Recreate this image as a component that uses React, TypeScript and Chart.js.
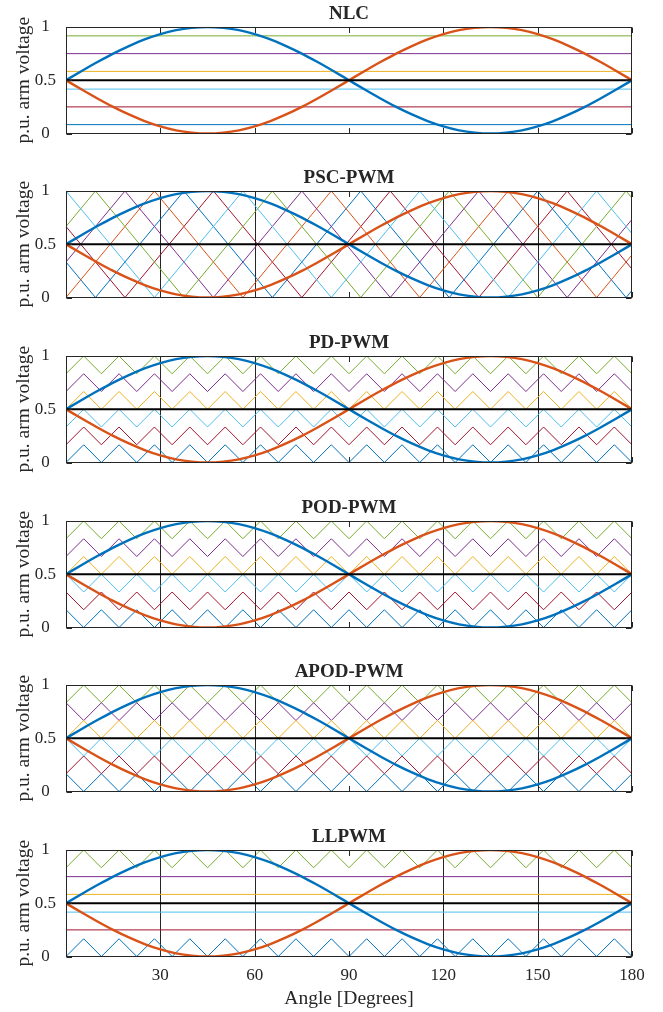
import { useEffect, useRef } from "react";
import { Chart, registerables } from "chart.js";

Chart.register(...registerables);

// MATLAB-style palette
const BLUE = "#0072BD";
const ORANGE = "#D95319";
const YELLOW = "#EDB120";
const PURPLE = "#7E2F8E";
const GREEN = "#77AC30";
const LIGHTBLUE = "#4DBEEE";
const DARKRED = "#A2142F";
const INK = "#262626";

// Axes
const angleTicks = [30, 60, 90, 120, 150, 180];
const frameTicks = [0, 30, 60, 90, 120, 150, 180];
const gridAngles = [30, 60, 120, 150];
const voltageTicks = [0, 0.5, 1];
const voltageTickLabels = ["0", "0.5", "1"];

const panelTitles = ["NLC", "PSC-PWM", "PD-PWM", "POD-PWM", "APOD-PWM", "LLPWM"];

// Arm reference voltages (p.u.) sampled every 5 degrees
const sineAngles = [
  0, 5, 10, 15, 20, 25, 30, 35, 40, 45, 50, 55, 60, 65, 70, 75, 80, 85, 90,
  95, 100, 105, 110, 115, 120, 125, 130, 135, 140, 145, 150, 155, 160, 165, 170, 175, 180,
];
const upperArm = [
  0.5, 0.587, 0.671, 0.75, 0.821, 0.883, 0.933, 0.97, 0.992, 1, 0.992, 0.97, 0.933, 0.883,
  0.821, 0.75, 0.671, 0.587, 0.5, 0.413, 0.329, 0.25, 0.179, 0.117, 0.067, 0.03, 0.008, 0,
  0.008, 0.03, 0.067, 0.117, 0.179, 0.25, 0.329, 0.413, 0.5,
];
const lowerArm = [
  0.5, 0.413, 0.329, 0.25, 0.179, 0.117, 0.067, 0.03, 0.008, 0, 0.008, 0.03, 0.067, 0.117,
  0.179, 0.25, 0.329, 0.413, 0.5, 0.587, 0.671, 0.75, 0.821, 0.883, 0.933, 0.97, 0.992, 1,
  0.992, 0.97, 0.933, 0.883, 0.821, 0.75, 0.671, 0.587, 0.5,
];
const midLevel = 0.5;

// Nearest level control: switching levels
const nlcLevels = [0.0833, 0.25, 0.4167, 0.5833, 0.75, 0.9167];
const bandColors = [BLUE, DARKRED, LIGHTBLUE, YELLOW, PURPLE, GREEN];

// Level-shifted carriers: vertex angles (half carrier period apart)
const lsAngles = [
  0, 5.625, 11.25, 16.875, 22.5, 28.125, 33.75, 39.375, 45, 50.625, 56.25, 61.875, 67.5,
  73.125, 78.75, 84.375, 90, 95.625, 101.25, 106.875, 112.5, 118.125, 123.75, 129.375, 135,
  140.625, 146.25, 151.875, 157.5, 163.125, 168.75, 174.375, 180,
];
const bandCount = 6;
// 1 = carrier starts at the top of its band, 0 = starts at the bottom
const pdStartHigh = [0, 0, 0, 0, 0, 0];
const podStartHigh = [1, 1, 1, 0, 0, 0];
const apodStartHigh = [1, 0, 1, 0, 1, 0];

// Phase-shifted carriers: vertices every 9.375 degrees
const pscAngles = [
  0, 9.375, 18.75, 28.125, 37.5, 46.875, 56.25, 65.625, 75, 84.375, 93.75, 103.125, 112.5,
  121.875, 131.25, 140.625, 150, 159.375, 168.75, 178.125, 187.5,
];
const pscShape = [1, 0.6667, 0.3333, 0, 0.3333, 0.6667];
const pscPeakOffset = [0, 1, 2, 3, 4, 5];
const pscColors = [LIGHTBLUE, GREEN, PURPLE, ORANGE, BLUE, DARKRED];

// LLPWM: outer bands carry triangles, inner levels fixed
const llpwmCarrierBands = [0, 5];
const llpwmLevels = [0.25, 0.4167, 0.5833, 0.75];
const llpwmLevelColors = [DARKRED, LIGHTBLUE, YELLOW, PURPLE];

const FONT_FAMILY = "'Liberation Serif', 'Times New Roman', serif";

type Pt = { x: number; y: number };

function thin(data: Pt[], color: string) {
  return { data, borderColor: color, borderWidth: 1, pointRadius: 0, tension: 0, fill: false };
}

function flatLine(level: number): Pt[] {
  return [
    { x: 0, y: level },
    { x: 180, y: level },
  ];
}

function bandCarrier(band: number, startHigh: number): Pt[] {
  return lsAngles.map((a, i) => ({ x: a, y: (band + ((i + startHigh) % 2)) / bandCount }));
}

function pscCarrier(c: number): Pt[] {
  return pscAngles.map((a, i) => ({
    x: a,
    y: pscShape[(((i - pscPeakOffset[c]) % 6) + 6) % 6],
  }));
}

function carriersFor(panel: number) {
  if (panel === 0) return nlcLevels.map((v, k) => thin(flatLine(v), bandColors[k]));
  if (panel === 1) return pscColors.map((col, c) => thin(pscCarrier(c), col));
  if (panel === 2) return bandColors.map((col, k) => thin(bandCarrier(k, pdStartHigh[k]), col));
  if (panel === 3) return bandColors.map((col, k) => thin(bandCarrier(k, podStartHigh[k]), col));
  if (panel === 4) return bandColors.map((col, k) => thin(bandCarrier(k, apodStartHigh[k]), col));
  return [
    ...llpwmCarrierBands.map((k) => thin(bandCarrier(k, pdStartHigh[k]), bandColors[k])),
    ...llpwmLevels.map((v, j) => thin(flatLine(v), llpwmLevelColors[j])),
  ];
}

function datasetsFor(panel: number) {
  return [
    { data: flatLine(midLevel), borderColor: "#000000", borderWidth: 2.2, pointRadius: 0, tension: 0 },
    {
      data: sineAngles.map((a, i) => ({ x: a, y: upperArm[i] })),
      borderColor: BLUE,
      borderWidth: 2.4,
      pointRadius: 0,
      cubicInterpolationMode: "monotone",
    },
    {
      data: sineAngles.map((a, i) => ({ x: a, y: lowerArm[i] })),
      borderColor: ORANGE,
      borderWidth: 2.4,
      pointRadius: 0,
      cubicInterpolationMode: "monotone",
    },
    ...carriersFor(panel),
  ];
}

const panelFrame = {
  id: "panelFrame",
  beforeDatasetsDraw(chart: any, _args: any, opts: any) {
    if (!opts.showGrid) return;
    const { ctx, chartArea: a, scales } = chart;
    ctx.save();
    ctx.strokeStyle = INK;
    ctx.lineWidth = 1;
    for (const g of gridAngles) {
      const px = Math.round(scales.x.getPixelForValue(g)) + 0.5;
      ctx.beginPath();
      ctx.moveTo(px, a.top);
      ctx.lineTo(px, a.bottom);
      ctx.stroke();
    }
    ctx.restore();
  },
  afterDatasetsDraw(chart: any, _args: any, opts: any) {
    const { ctx, chartArea: a, scales } = chart;
    ctx.save();
    ctx.strokeStyle = INK;
    ctx.lineWidth = 1;
    const L = Math.round(a.left) + 0.5;
    const R = Math.round(a.right) - 0.5;
    const T = Math.round(a.top) + 0.5;
    const B = Math.round(a.bottom) - 0.5;
    ctx.strokeRect(L, T, R - L, B - T);
    const tl = 5.5;
    ctx.beginPath();
    for (const t of frameTicks) {
      const px = Math.round(scales.x.getPixelForValue(t)) + 0.5;
      ctx.moveTo(px, B);
      ctx.lineTo(px, B - tl);
      ctx.moveTo(px, T);
      ctx.lineTo(px, T + tl);
    }
    for (const v of voltageTicks) {
      const py = Math.round(scales.y.getPixelForValue(v)) + 0.5;
      ctx.moveTo(L, py);
      ctx.lineTo(L + tl, py);
      ctx.moveTo(R, py);
      ctx.lineTo(R - tl, py);
    }
    ctx.stroke();

    // panel title
    ctx.fillStyle = INK;
    ctx.font = `bold 19px ${FONT_FAMILY}`;
    ctx.textAlign = "center";
    ctx.textBaseline = "alphabetic";
    ctx.fillText(opts.title, (a.left + a.right) / 2, a.top - 8.5);

    // y-axis title
    ctx.font = `19.5px ${FONT_FAMILY}`;
    ctx.save();
    ctx.translate(23.5, (a.top + a.bottom) / 2);
    ctx.rotate(-Math.PI / 2);
    ctx.textBaseline = "middle";
    ctx.fillText("p.u. arm voltage", 0, 0);
    ctx.restore();

    if (opts.xTitle) {
      ctx.textBaseline = "alphabetic";
      ctx.fillText(opts.xTitle, (a.left + a.right) / 2, a.bottom + 47.5);
    }
    ctx.restore();
  },
};

const canvasTops = [0, 164, 329, 494, 658, 823];
const PANEL_H = 164;
const LAST_H = 189;

export default function App() {
  const refs = useRef<(HTMLCanvasElement | null)[]>([]);

  useEffect(() => {
    const charts: Chart[] = [];
    panelTitles.forEach((title, p) => {
      const canvas = refs.current[p];
      if (!canvas) return;
      const isLast = p === panelTitles.length - 1;
      const chart = new Chart(canvas, {
        type: "line",
        data: { datasets: datasetsFor(p) as any },
        options: {
          animation: false,
          responsive: false,
          devicePixelRatio: 1,
          events: [],
          layout: { padding: { top: 27, right: 31, bottom: isLast ? 0 : 30.5, left: 0 } },
          plugins: {
            legend: { display: false },
            tooltip: { enabled: false },
            panelFrame: { title, showGrid: p > 0, xTitle: isLast ? "Angle [Degrees]" : "" },
          } as any,
          scales: {
            x: {
              type: "linear",
              min: 0,
              max: 180,
              display: isLast,
              afterBuildTicks: (s: any) => {
                s.ticks = angleTicks.map((v) => ({ value: v }));
              },
              afterFit: (s: any) => {
                s.height = isLast ? 55.5 : 0;
              },
              grid: { display: false, drawTicks: false },
              border: { display: false },
              ticks: {
                padding: 9,
                maxRotation: 0,
                autoSkip: false,
                color: INK,
                font: { family: FONT_FAMILY, size: 17 },
                callback: (v: any) => String(v),
              },
            },
            y: {
              type: "linear",
              min: 0,
              max: 1,
              afterBuildTicks: (s: any) => {
                s.ticks = voltageTicks.map((v) => ({ value: v }));
              },
              afterFit: (s: any) => {
                s.width = 66;
              },
              grid: { display: false, drawTicks: false },
              border: { display: false },
              ticks: {
                padding: 10,
                crossAlign: "center",
                autoSkip: false,
                color: INK,
                font: { family: FONT_FAMILY, size: 17 },
                callback: (v: any) => voltageTickLabels[voltageTicks.indexOf(Number(v))],
              },
            },
          },
        } as any,
        plugins: [panelFrame],
      });
      charts.push(chart);
    });
    return () => charts.forEach((c) => c.destroy());
  }, []);

  return (
    <div style={{ position: "absolute", left: 0, top: 0, width: 663, height: 1012, background: "#fff" }}>
      {panelTitles.map((t, p) => (
        <canvas
          key={t}
          ref={(el) => {
            refs.current[p] = el;
          }}
          width={663}
          height={p === panelTitles.length - 1 ? LAST_H : PANEL_H}
          style={{ position: "absolute", left: 0, top: canvasTops[p], display: "block" }}
        />
      ))}
    </div>
  );
}
